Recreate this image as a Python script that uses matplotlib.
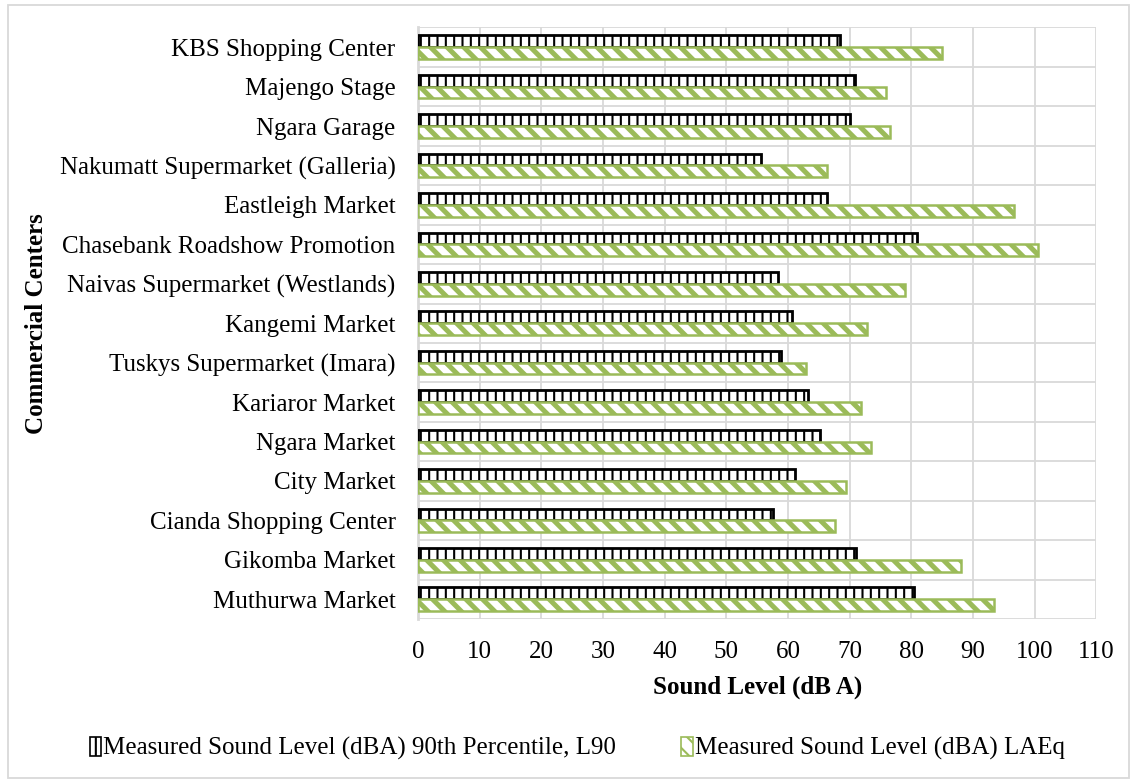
import numpy as np
import matplotlib
matplotlib.use("Agg")
import matplotlib.pyplot as plt
from matplotlib.patches import Rectangle, Patch

# Commercial centres, top to bottom as listed in the chart
centers = [
    "KBS Shopping Center",
    "Majengo Stage",
    "Ngara Garage",
    "Nakumatt Supermarket (Galleria)",
    "Eastleigh Market",
    "Chasebank Roadshow Promotion",
    "Naivas Supermarket (Westlands)",
    "Kangemi Market",
    "Tuskys Supermarket (Imara)",
    "Kariaror Market",
    "Ngara Market",
    "City Market",
    "Cianda Shopping Center",
    "Gikomba Market",
    "Muthurwa Market",
]

# Measured sound levels, dBA
l90 = [68.5, 70.9, 70.0, 55.7, 66.4, 80.9, 58.4, 60.6, 58.8, 63.3, 65.2, 61.1, 57.6, 71.1, 80.4]
laeq = [85.0, 75.9, 76.6, 66.4, 96.6, 100.6, 78.9, 72.8, 63.0, 71.9, 73.4, 69.4, 67.7, 88.1, 93.4]

x_ticks = [0, 10, 20, 30, 40, 50, 60, 70, 80, 90, 100, 110]

label_l90 = "Measured Sound Level (dBA) 90th Percentile, L90"
label_laeq = "Measured Sound Level (dBA) LAEq"

GREEN = "#9BBB59"
GRID = "#D9D9D9"
FS = 18

plt.rcParams["font.family"] = ["Liberation Serif", "DejaVu Serif"]
plt.rcParams["hatch.linewidth"] = 1.5

fig = plt.figure(figsize=(11.32, 7.83), dpi=100)
ax = fig.add_axes([0.3691, 0.2095, 0.5995, 0.7554])

y = np.arange(len(centers))
h = 0.3

bars_l90 = ax.barh(y - h / 2, l90, height=h, facecolor="white", edgecolor="black",
                   hatch="||", linewidth=2.0, zorder=3)
with plt.rc_context({"hatch.linewidth": 3.6}):
    bars_laeq = ax.barh(y + h / 2, laeq, height=h, facecolor="white", edgecolor=GREEN,
                        hatch="\\\\", linewidth=1.8, zorder=3)

ax.set_xlim(0, 110)
ax.set_ylim(len(centers) - 0.5, -0.5)
ax.set_xticks(x_ticks)
ax.set_xticklabels([str(v) for v in x_ticks])
ax.set_yticks(y)
ax.set_yticklabels(centers)
ax.set_yticks(np.arange(-0.5, len(centers), 0.5), minor=True)

ax.tick_params(axis="both", which="both", length=0, labelsize=FS)
ax.tick_params(axis="y", pad=16)
ax.tick_params(axis="x", pad=16)

ax.set_axisbelow(True)
ax.grid(axis="x", which="major", color=GRID, linewidth=1.3)
ax.grid(axis="y", which="minor", color=GRID, linewidth=1.3)

for side in ["top", "right", "bottom"]:
    ax.spines[side].set_visible(False)
ax.spines["left"].set_color(GRID)
ax.spines["left"].set_linewidth(2)

ax.set_xlabel("Sound Level (dB A)", fontsize=FS, fontweight="bold", labelpad=9)
ax.set_ylabel("Commercial Centers", fontsize=FS, fontweight="bold")
ax.yaxis.set_label_coords(-0.545, 0.5)

# Legend along the bottom
handles = [
    Patch(facecolor="white", edgecolor="black", hatch="||", linewidth=1.2),
    Patch(facecolor="white", edgecolor=GREEN, hatch="\\\\", linewidth=1.2),
]
fig.legend(handles, [label_l90, label_laeq], loc="center", bbox_to_anchor=(0.51, 0.044),
           ncol=2, frameon=False, fontsize=FS, handlelength=0.45, handleheight=0.8,
           handletextpad=0.1, columnspacing=2.6)

# Outer chart border
fig.patches.append(Rectangle((0.007, 0.007), 0.99, 0.987, transform=fig.transFigure,
                             fill=False, edgecolor=GRID, linewidth=1.3))

fig.savefig("out.png", dpi=100, facecolor="white")
